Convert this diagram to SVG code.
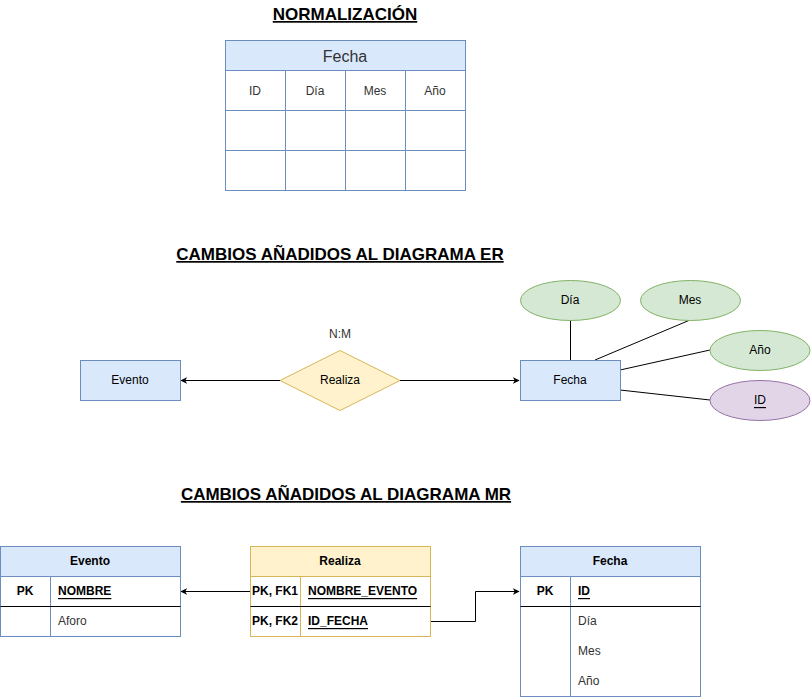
<svg xmlns="http://www.w3.org/2000/svg" width="811" height="697" viewBox="0 0 811 697">
<style>
text{font-family:"Liberation Sans",Arial,sans-serif;fill:#000}
.t{font-size:17px;font-weight:bold;text-decoration:underline;text-anchor:middle}
.c{font-size:12px;text-anchor:middle;dominant-baseline:central}
.l{font-size:12px;dominant-baseline:central}
.b{font-weight:bold}
.u{text-decoration:underline}
.blue{fill:#dae8fc;stroke:#6c8ebf}
.yel{fill:#fff2cc;stroke:#d6b656}
.grn{fill:#d5e8d4;stroke:#82b366}
.pur{fill:#e1d5e7;stroke:#9673a6}
.ln{stroke:#000;fill:none}
.gb{stroke:#6c8ebf;fill:none}
.gy{stroke:#d6b656;fill:none}
.w{fill:#fff}
</style>
<defs>
<marker id="arr" viewBox="0 0 10 10" refX="9" refY="5" markerWidth="7" markerHeight="7" markerUnits="userSpaceOnUse" orient="auto">
<path d="M0,0 L10,5 L0,10 L3,5 Z" fill="#000"/>
</marker>
</defs>

<text class="t" x="345" y="20">NORMALIZACIÓN</text>
<text class="t" x="340" y="260">CAMBIOS AÑADIDOS AL DIAGRAMA ER</text>
<text class="t" x="346" y="500">CAMBIOS AÑADIDOS AL DIAGRAMA MR</text>

<g id="norm-fecha">
<rect x="225.5" y="40.5" width="240" height="150" class="w" stroke="#6c8ebf"/>
<rect x="225.5" y="40.5" width="240" height="30" class="blue"/>
<text class="c" x="345" y="56" style="font-size:16px;fill:#333">Fecha</text>
<path class="gb" d="M225.5,110.5H465.5M225.5,150.5H465.5M285.5,70.5V190.5M345.5,70.5V190.5M405.5,70.5V190.5"/>
<text class="c" x="255" y="91" style="fill:#333">ID</text>
<text class="c" x="315" y="91" style="fill:#333">Día</text>
<text class="c" x="375" y="91" style="fill:#333">Mes</text>
<text class="c" x="435" y="91" style="fill:#333">Año</text>
</g>

<g id="connectors">
<path class="ln" d="M280,380.5H181" marker-end="url(#arr)"/>
<path class="ln" d="M400,380.5H519" marker-end="url(#arr)"/>
<path class="ln" d="M570.5,320V360"/>
<path class="ln" d="M595,360L690,320"/>
<path class="ln" d="M620,370L710,350"/>
<path class="ln" d="M620,390L710,400"/>
<path class="ln" d="M250,591.5H181" marker-end="url(#arr)"/>
<path class="ln" d="M430,621.5H475.5V591.5H519" marker-end="url(#arr)"/>
</g>

<g id="er-evento">
<rect x="80.5" y="360.5" width="100" height="40" class="blue"/>
<text class="c" x="130" y="380">Evento</text>
</g>
<g id="er-realiza">
<path d="M340,350.5L400,380.5L340,410.5L280,380.5Z" class="yel"/>
<text class="c" x="340" y="380">Realiza</text>
<text class="c" x="340" y="334" style="fill:#333">N:M</text>
</g>
<g id="er-fecha">
<rect x="520.5" y="360.5" width="100" height="40" class="blue"/>
<text class="c" x="570" y="380">Fecha</text>
</g>
<g id="er-dia">
<ellipse cx="570.5" cy="300.5" rx="50" ry="20" class="grn"/>
<text class="c" x="570" y="300">Día</text>
</g>
<g id="er-mes">
<ellipse cx="690.5" cy="300.5" rx="50" ry="20" class="grn"/>
<text class="c" x="690" y="300">Mes</text>
</g>
<g id="er-anio">
<ellipse cx="760" cy="350.5" rx="50" ry="20" class="grn"/>
<text class="c" x="760" y="350">Año</text>
</g>
<g id="er-id">
<ellipse cx="760" cy="400.5" rx="50" ry="20" class="pur"/>
<text class="c u" x="760" y="400">ID</text>
</g>

<g id="mr-evento">
<rect x="0.5" y="546.5" width="180" height="90" class="w" stroke="#6c8ebf"/>
<rect x="0.5" y="546.5" width="180" height="30" class="blue"/>
<path class="gb" d="M50.5,576.5V636.5"/>
<path class="ln" d="M0.5,606.5H180.5"/>
<text class="c b" x="90" y="561">Evento</text>
<text class="c b" x="25" y="591">PK</text>
<text class="l b u" x="58" y="591">NOMBRE</text>
<text class="l" x="58" y="621" style="fill:#333">Aforo</text>
</g>

<g id="mr-realiza">
<rect x="250.5" y="546.5" width="180" height="90" class="w" stroke="#d6b656"/>
<rect x="250.5" y="546.5" width="180" height="30" class="yel"/>
<path class="gy" d="M300.5,576.5V636.5"/>
<path class="ln" d="M250.5,606.5H430.5"/>
<text class="c b" x="340" y="561">Realiza</text>
<text class="c b" x="275" y="591">PK, FK1</text>
<text class="l b u" x="308" y="591">NOMBRE_EVENTO</text>
<text class="c b" x="275" y="621">PK, FK2</text>
<text class="l b u" x="308" y="621">ID_FECHA</text>
</g>

<g id="mr-fecha">
<rect x="520.5" y="546.5" width="180" height="150" class="w" stroke="#6c8ebf"/>
<rect x="520.5" y="546.5" width="180" height="30" class="blue"/>
<path class="gb" d="M570.5,576.5V696.5"/>
<path class="ln" d="M520.5,606.5H700.5"/>
<text class="c b" x="610" y="561">Fecha</text>
<text class="c b" x="545" y="591">PK</text>
<text class="l b u" x="578" y="591">ID</text>
<text class="l" x="578" y="621" style="fill:#333">Día</text>
<text class="l" x="578" y="651" style="fill:#333">Mes</text>
<text class="l" x="578" y="681" style="fill:#333">Año</text>
</g>
</svg>
